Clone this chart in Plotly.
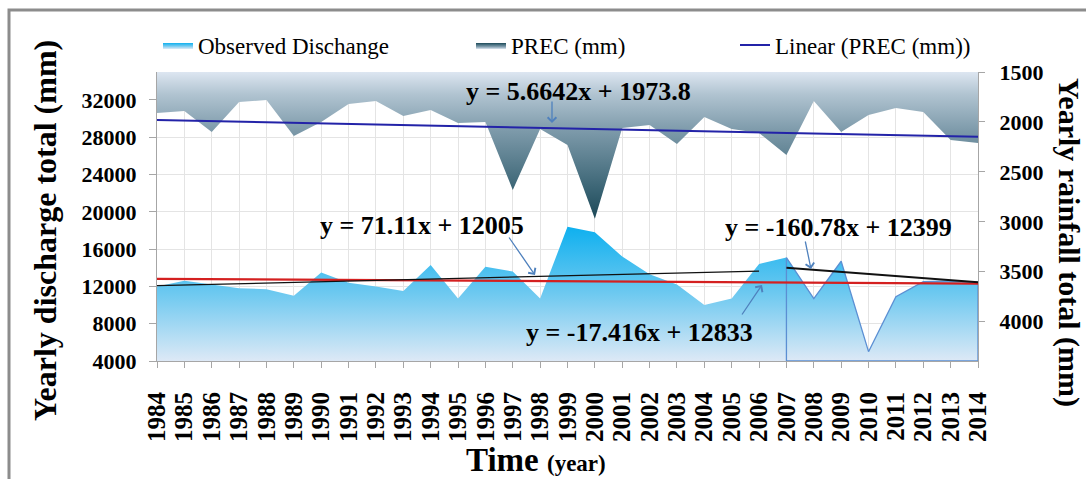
import plotly.graph_objects as go

# ---------------- data ----------------
years = list(range(1984, 2015))
discharge_mm = [12000, 12600, 12200, 11800, 11700, 11000, 13500, 12400, 12000, 11500,
                14300, 10700, 14100, 13600, 10700, 18400, 17800, 15200, 13300, 12200,
                10000, 10700, 14400, 15100, 10700, 14700, 5000, 10900, 12500, 12600, 12450]
prec_mm = [1910, 1890, 2100, 1800, 1780, 2140, 2000, 1820, 1790, 1940,
           1880, 2010, 2000, 2680, 2070, 2230, 2970, 2060, 2030, 2220,
           1950, 2070, 2110, 2330, 1790, 2100, 1930, 1860, 1900, 2180, 2210]

prec_slope, prec_intercept = 5.6642, 1973.8          # Linear (PREC (mm))
dis_slope, dis_intercept = -17.416, 12833            # whole-period discharge trend
p1_slope, p1_intercept = 71.11, 12005                # 1984-2006 discharge trend
p2_years = [2007, 2014]                              # 2007-2014 trend segment as drawn
p2_values = [14000, 12450]
split_year = 2007

left_ticks = [4000, 8000, 12000, 16000, 20000, 24000, 28000, 32000]
right_ticks = [1500, 2000, 2500, 3000, 3500, 4000]
left_range = [4000, 35000]
right_range = [4393, 1500]

# ---------------- geometry helpers (pixel -> paper) ----------------
W, H = 1086, 479
L, R, T, B = 157, 978, 72, 361


def px(x):
    return (x - L) / (R - L)


def py(y):
    return (B - y) / (B - T)


FONT = "Liberation Serif"

dis_cs = [[0, "#dde9f6"], [0.5, "#6ec9f0"], [1, "#0eb0ef"]]
prec_cs = [[0, "#dde6f1"], [0.15, "#b1c4d1"], [0.4, "#7d9aaa"], [0.8, "#3a6474"], [1, "#1c4857"]]

split_idx = years.index(split_year)
x1 = years[:split_idx + 1]
y1 = discharge_mm[:split_idx + 1]
x2 = years[split_idx:]
y2 = discharge_mm[split_idx:]
base = left_range[0]

fig = go.Figure()

# Observed discharge (first part, no outline)
fig.add_trace(go.Scatter(
    x=x1, y=y1, mode="lines", line=dict(width=0, color="#12b1ef"),
    fill="tozeroy",
    fillgradient=dict(type="vertical", colorscale=dis_cs, start=base, stop=max(discharge_mm)),
    name="Observed Dischange", legend="legend", hoverinfo="skip"))

# Observed discharge (2007-2014, with blue outline)
fig.add_trace(go.Scatter(
    x=x2 + [x2[-1], x2[0], x2[0]], y=y2 + [base, base, y2[0]],
    mode="lines", line=dict(width=1.3, color="#5b8fd3"),
    fill="toself",
    fillgradient=dict(type="vertical", colorscale=dis_cs, start=base, stop=max(discharge_mm)),
    showlegend=False, hoverinfo="skip"))

# PREC area on reversed right axis
fig.add_trace(go.Scatter(
    x=years, y=prec_mm, yaxis="y2", mode="lines", line=dict(width=0, color="#5f8595"),
    fill="tozeroy",
    fillgradient=dict(type="vertical", colorscale=prec_cs, start=right_range[1], stop=max(prec_mm)),
    name="PREC (mm)", legend="legend2", hoverinfo="skip"))

# Linear PREC trend
idx = list(range(1, len(years) + 1))
fig.add_trace(go.Scatter(
    x=years, y=[prec_slope * i + prec_intercept for i in idx], yaxis="y2",
    mode="lines", line=dict(color="#2323a8", width=2),
    name="Linear (PREC (mm))", legend="legend3", hoverinfo="skip"))

# Discharge trend (whole period)
fig.add_trace(go.Scatter(
    x=years, y=[dis_slope * i + dis_intercept for i in idx],
    mode="lines", line=dict(color="#d42020", width=2.2), showlegend=False, hoverinfo="skip"))

# 1984-2006 trend
p1_years = years[:split_idx]
fig.add_trace(go.Scatter(
    x=p1_years, y=[p1_slope * i + p1_intercept for i in range(1, len(p1_years) + 1)],
    mode="lines", line=dict(color="#111111", width=1.2), showlegend=False, hoverinfo="skip"))

# 2007-2014 trend
fig.add_trace(go.Scatter(
    x=p2_years, y=p2_values,
    mode="lines", line=dict(color="#111111", width=2), showlegend=False, hoverinfo="skip"))

# ---------------- annotations ----------------
ann = []
eq_font = dict(family=FONT, size=26, color="black", weight="bold")


def text(t, x, y, font, angle=0):
    ann.append(dict(text=t, x=px(x), y=py(y), xref="paper", yref="paper", showarrow=False,
                    xanchor="center", yanchor="middle", font=font, textangle=angle))


def arrow(tail, head):
    ann.append(dict(text="", x=px(head[0]), y=py(head[1]), xref="paper", yref="paper",
                    showarrow=True, ax=tail[0] - head[0], ay=tail[1] - head[1],
                    arrowhead=4, arrowsize=1.3, arrowwidth=1.3, arrowcolor="#4f81bd"))


text("y = 5.6642x + 1973.8", 578, 91, eq_font)
text("y = 71.11x + 12005", 422, 225, eq_font)
text("y = -160.78x + 12399", 838, 227, eq_font)
text("y = -17.416x + 12833", 639, 332, eq_font)
arrow((552, 100), (552, 123))
arrow((508, 236), (535, 275))
arrow((805, 240), (811, 269))
arrow((741, 316), (762, 285))

text("<b>Time</b> <span style='font-size:23px'><b>(year)</b></span>", 536, 460,
     dict(family=FONT, size=33, color="black"))
text("<b>Yearly discharge total (mm)</b>", 45, 231, dict(family=FONT, size=32, color="black"), -90)
text("<b>Yearly rainfall total (mm)</b>", 1069, 242, dict(family=FONT, size=30, color="black"), 90)

# ---------------- layout ----------------
tick_bold = dict(family=FONT, size=22, color="black", weight="bold")
legend_font = dict(family=FONT, size=23, color="black")
leg_common = dict(orientation="h", yanchor="middle", xanchor="left", y=py(45),
                  bgcolor="rgba(0,0,0,0)", font=legend_font, borderwidth=0)

fig.update_layout(
    width=W, height=H, autosize=False,
    font=dict(family=FONT, color="black"),
    margin=dict(l=L, r=W - R, t=T, b=H - B, pad=0),
    paper_bgcolor="white", plot_bgcolor="white",
    showlegend=True,
    legend=dict(x=px(158), **leg_common),
    legend2=dict(x=px(471), **leg_common),
    legend3=dict(x=px(735), **leg_common),
    xaxis=dict(range=[years[0], years[-1]], tickvals=years, ticktext=[str(y) for y in years],
               tickangle=-90, tickfont=dict(family=FONT, size=25, color="black", weight="bold"),
               ticks="outside", ticklen=6, tickcolor="#a6a6a6", ticklabelstandoff=14,
               showline=True, linecolor="#a6a6a6", linewidth=1,
               showgrid=True, gridcolor="#e4e4e4", zeroline=False),
    yaxis=dict(range=left_range, tickvals=left_ticks, tickformat="d", tickfont=tick_bold,
               ticks="outside", ticklen=7, tickcolor="#a6a6a6", ticklabelstandoff=8,
               showline=True, linecolor="#a6a6a6", linewidth=1,
               showgrid=True, gridcolor="#e4e4e4", zeroline=False),
    yaxis2=dict(range=right_range, overlaying="y", side="right", tickvals=right_ticks,
                tickformat="d", tickfont=tick_bold, ticks="outside", ticklen=6,
                tickcolor="#a6a6a6", ticklabelstandoff=10, showline=True,
                linecolor="#a6a6a6", linewidth=1, showgrid=False, zeroline=False),
    annotations=ann,
    shapes=[dict(type="rect", xref="paper", yref="paper",
                 x0=px(9), x1=px(1110), y0=py(500), y1=py(10),
                 line=dict(color="#8c8c8c", width=3), fillcolor="rgba(0,0,0,0)", layer="below")],
)

fig.write_html("out.html", config={"displayModeBar": False},
               post_script="document.body.style.margin='0px';document.body.style.overflow='hidden';")
